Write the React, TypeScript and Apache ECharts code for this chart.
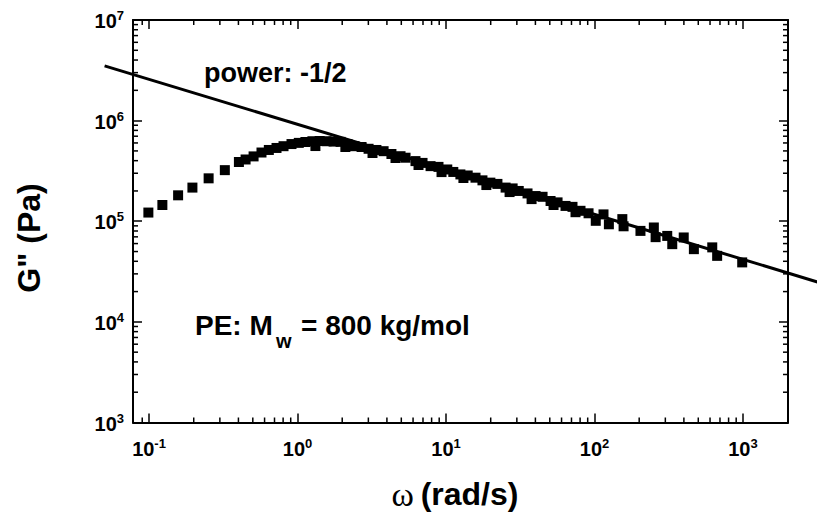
import React, { useEffect, useRef } from "react";
import * as echarts from "echarts";

// Frequency (rad/s) and loss modulus G'' (Pa)
const omega = [
  0.099, 0.123, 0.157, 0.196, 0.252, 0.324, 0.403, 0.447, 0.506, 0.572,
  0.641, 0.722, 0.805, 0.911, 1.02, 1.13, 1.26, 1.41, 1.57, 1.75,
  1.95, 2.17, 2.42, 2.7, 3.01, 3.4, 3.8, 4.29, 4.94, 5.34,
  6.23, 6.95, 7.87, 8.9, 10.2, 11.2, 12.5, 14.0, 15.8, 17.6,
  19.9, 22.2, 25.2, 28.1, 30.9, 35.4, 40.1, 44.7, 50.6, 56.4,
  63.8, 71.1, 80.5, 91.2, 102, 115, 125, 154, 157, 204,
  251, 258, 309, 334, 399, 467, 621, 670, 988,
  1.32, 2.1, 3.2, 4.57, 6.53, 9.33, 13.1, 18.7, 26.8, 37.7, 53.0, 74.5,
];
const gLoss = [
  1.22e5, 1.45e5, 1.81e5, 2.16e5, 2.67e5, 3.22e5, 3.88e5, 4.11e5, 4.41e5, 4.82e5,
  5.11e5, 5.35e5, 5.57e5, 5.85e5, 6.01e5, 6.13e5, 6.24e5, 6.27e5, 6.24e5, 6.19e5,
  6.15e5, 5.85e5, 5.57e5, 5.47e5, 5.25e5, 5.11e5, 4.97e5, 4.66e5, 4.43e5, 4.28e5,
  3.96e5, 3.8e5, 3.53e5, 3.47e5, 3.27e5, 3.09e5, 2.92e5, 2.85e5, 2.71e5, 2.55e5,
  2.42e5, 2.35e5, 2.16e5, 2.12e5, 2.0e5, 1.89e5, 1.78e5, 1.75e5, 1.59e5, 1.54e5,
  1.42e5, 1.39e5, 1.27e5, 1.2e5, 1.01e5, 1.17e5, 9.33e4, 1.05e5, 8.91e4, 8.02e4,
  8.67e4, 6.95e4, 7.15e4, 5.92e4, 6.9e4, 5.28e4, 5.5e4, 4.53e4, 3.9e4,
  5.59e5, 5.47e5, 4.77e5, 4.25e5, 3.62e5, 3.08e5, 2.69e5, 2.29e5, 1.95e5, 1.66e5, 1.45e5, 1.23e5,
];

// Power-law guide line (slope about -1/2 on the log-log plot)
const powerLawOmega = [0.0502, 3180];
const powerLawG = [3.5e6, 2.49e4];

// Axis ranges
const X_MIN = 0.078;
const X_MAX = 2010;
const Y_MIN = 1e3;
const Y_MAX = 1e7;

// Minor tick values
const xMinorTicks = [
  0.09,
  0.2, 0.3, 0.4, 0.5, 0.6, 0.7, 0.8, 0.9,
  2, 3, 4, 5, 6, 7, 8, 9,
  20, 30, 40, 50, 60, 70, 80, 90,
  200, 300, 400, 500, 600, 700, 800, 900,
];
const yMinorTicks = [
  2e3, 3e3, 4e3, 5e3, 6e3, 7e3, 8e3, 9e3,
  2e4, 3e4, 4e4, 5e4, 6e4, 7e4, 8e4, 9e4,
  2e5, 3e5, 4e5, 5e5, 6e5, 7e5, 8e5, 9e5,
  2e6, 3e6, 4e6, 5e6, 6e6, 7e6, 8e6, 9e6,
];

const SANS = '"Liberation Sans", Arial, sans-serif';
const SERIF = '"Liberation Serif", "Times New Roman", serif';

const powLabel = (v: number) => {
  const e = Math.round(Math.log10(v));
  return `{b|10}{s|${e}}`;
};

const labelRich = {
  b: { fontSize: 20, fontWeight: "bold", fontFamily: SANS, color: "#000", lineHeight: 22, verticalAlign: "bottom" },
  s: { fontSize: 13, fontWeight: "bold", fontFamily: SANS, color: "#000", lineHeight: 13, verticalAlign: "top" },
};

const MAJOR = 9;
const MINOR = 5;
const TICK_W = 1.5;

export default function App() {
  const ref = useRef<HTMLDivElement>(null);

  useEffect(() => {
    if (!ref.current) return;
    const chart = echarts.init(ref.current, undefined, { renderer: "svg" });

    const tickStyle = { stroke: "#000", lineWidth: TICK_W };

    const axisLineStyle = { show: true, onZero: false, lineStyle: { color: "#000", width: 2 } };
    const majorTick = { show: true, inside: true, length: MAJOR, lineStyle: { color: "#000", width: TICK_W } };

    const option: any = {
      animation: false,
      backgroundColor: "#fff",
      grid: { left: 133, top: 20, right: 29, bottom: 90.5, containLabel: false, outerBoundsMode: "none" },
      xAxis: [
        {
          type: "log",
          logBase: 10,
          min: X_MIN,
          max: X_MAX,
          position: "bottom",
          axisLine: axisLineStyle,
          axisTick: majorTick,
          splitLine: { show: false },
          axisLabel: {
            show: true,
            margin: 14,
            showMinLabel: false,
            showMaxLabel: false,
            formatter: powLabel,
            rich: labelRich,
          },
        },
        {
          type: "log",
          logBase: 10,
          min: X_MIN,
          max: X_MAX,
          position: "top",
          axisLine: axisLineStyle,
          axisTick: majorTick,
          splitLine: { show: false },
          axisLabel: { show: false },
        },
      ],
      yAxis: [
        {
          type: "log",
          logBase: 10,
          min: Y_MIN,
          max: Y_MAX,
          position: "left",
          axisLine: axisLineStyle,
          axisTick: majorTick,
          splitLine: { show: false },
          axisLabel: {
            show: true,
            margin: 9,
            formatter: powLabel,
            rich: labelRich,
          },
        },
        {
          type: "log",
          logBase: 10,
          min: Y_MIN,
          max: Y_MAX,
          position: "right",
          axisLine: axisLineStyle,
          axisTick: majorTick,
          splitLine: { show: false },
          axisLabel: { show: false },
        },
      ],
      series: [
        {
          type: "custom",
          xAxisIndex: 0,
          yAxisIndex: 0,
          silent: true,
          data: xMinorTicks.map((v) => [v, 1e4]),
          renderItem: (params: any, api: any) => {
            const cs = params.coordSys;
            const x = api.coord([api.value(0), api.value(1)])[0];
            const yb = cs.y + cs.height;
            const yt = cs.y;
            return {
              type: "group",
              children: [
                { type: "line", shape: { x1: x, y1: yb, x2: x, y2: yb - MINOR }, style: tickStyle },
                { type: "line", shape: { x1: x, y1: yt, x2: x, y2: yt + MINOR }, style: tickStyle },
              ],
            };
          },
        },
        {
          type: "custom",
          xAxisIndex: 0,
          yAxisIndex: 0,
          silent: true,
          data: yMinorTicks.map((v) => [1, v]),
          renderItem: (params: any, api: any) => {
            const cs = params.coordSys;
            const y = api.coord([api.value(0), api.value(1)])[1];
            const xl = cs.x;
            const xr = cs.x + cs.width;
            return {
              type: "group",
              children: [
                { type: "line", shape: { x1: xl, y1: y, x2: xl + MINOR, y2: y }, style: tickStyle },
                { type: "line", shape: { x1: xr, y1: y, x2: xr - MINOR, y2: y }, style: tickStyle },
              ],
            };
          },
        },
        {
          type: "scatter",
          xAxisIndex: 0,
          yAxisIndex: 0,
          symbol: "rect",
          symbolSize: 10,
          itemStyle: { color: "#000", opacity: 1 },
          data: omega.map((w, i) => [w, gLoss[i]]),
          z: 3,
        },
        {
          // power-law guide line, extending past the frame like the reference
          type: "custom",
          xAxisIndex: 0,
          yAxisIndex: 0,
          silent: true,
          clip: false,
          z: 4,
          data: [[powerLawOmega[0], powerLawG[0], powerLawOmega[1], powerLawG[1]]],
          renderItem: (params: any, api: any) => {
            const p1 = api.coord([api.value(0), api.value(1)]);
            const p2 = api.coord([api.value(2), api.value(3)]);
            return {
              type: "line",
              shape: { x1: p1[0], y1: p1[1], x2: p2[0], y2: p2[1] },
              style: { stroke: "#000", lineWidth: 3 },
            };
          },
        },
      ],
      graphic: [
        {
          type: "text",
          x: 204,
          y: 73,
          style: { text: "power: -1/2", font: `bold 27px ${SANS}`, fill: "#000", verticalAlign: "middle", align: "left" },
        },
        {
          type: "text",
          x: 195,
          y: 325,
          style: { text: "PE: M", font: `bold 28px ${SANS}`, fill: "#000", verticalAlign: "middle", align: "left" },
        },
        {
          type: "text",
          x: 276,
          y: 341,
          style: { text: "w", font: `bold 20px ${SANS}`, fill: "#000", verticalAlign: "middle", align: "left" },
        },
        {
          type: "text",
          x: 301,
          y: 325,
          style: { text: "= 800 kg/mol", font: `bold 28px ${SANS}`, fill: "#000", verticalAlign: "middle", align: "left" },
        },
        {
          type: "text",
          x: 455,
          y: 494,
          style: {
            text: "{w|ω}  {r|(rad/s)}",
            align: "center",
            verticalAlign: "middle",
            rich: {
              w: { fontFamily: SERIF, fontSize: 34, fontWeight: "normal", fill: "#000", color: "#000" },
              r: { fontFamily: SANS, fontSize: 32, fontWeight: "bold", fill: "#000", color: "#000" },
            },
          },
        },
        {
          type: "text",
          x: 29,
          y: 238,
          rotation: Math.PI / 2,
          style: {
            text: 'G" (Pa)',
            font: `bold 32px ${SANS}`,
            fill: "#000",
            align: "center",
            verticalAlign: "middle",
          },
        },
      ],
    };

    chart.setOption(option);
    return () => chart.dispose();
  }, []);

  return (
    <div
      ref={ref}
      style={{ position: "absolute", left: 0, top: 0, width: 817, height: 513 }}
    />
  );
}
